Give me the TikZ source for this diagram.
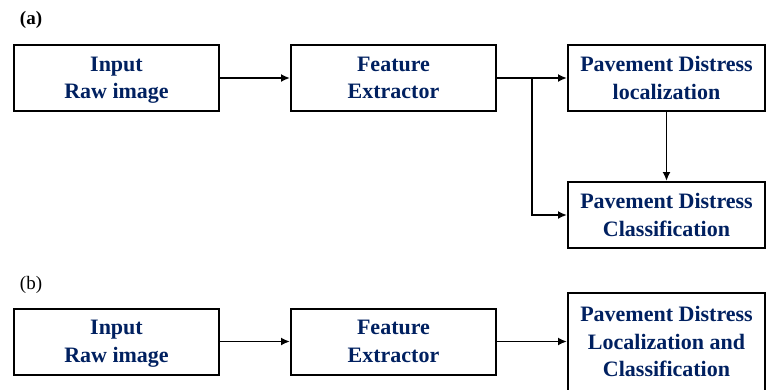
\documentclass[tikz,border=0pt]{standalone}
\usepackage{fontspec}
\setmainfont{Liberation Serif}
\usetikzlibrary{arrows.meta, positioning}
\definecolor{navy}{RGB}{0,32,96}

\begin{document}
\begin{tikzpicture}[
    x=1pt, y=-1pt,
    block/.style={draw, line width=2pt, minimum width=205pt, minimum height=66pt,
                  align=center, inner sep=0pt, text=navy, text depth=0pt,
                  font=\bfseries\fontsize{22}{27.5}\selectfont},
    endblock/.style={block, minimum width=197pt},
    arrow/.style={-{Latex[length=9pt,width=8pt]}, line width=1.8pt},
    tag/.style={font=\fontsize{19}{21}\selectfont},
    node distance=70pt
]
    \useasboundingbox (0,0) rectangle (766,389);
    \clip (0,0) rectangle (766,389);

    % (a) two-head pipeline
    \node[tag, font=\bfseries\fontsize{19}{21}\selectfont] (taga) at (31,20) {(a)};
    \node[block] (ina) at (116.5,78) {Input\\Raw image};
    \node[block, right=of ina] (fea) {Feature\\Extractor};
    \node[endblock, right=of fea] (loc) {Pavement Distress\\localization};
    \node[endblock, below=69pt of loc] (cls) {Pavement Distress\\Classification};
    \coordinate[right=35pt of fea.east] (split);

    \draw[arrow] (ina) -- (fea);
    \draw[arrow] (fea.east) -- (fea.east -| loc.west);
    \draw[arrow] (split) |- (cls.west);
    \draw[arrow] (loc) -- (cls);

    % (b) single-head pipeline
    \node[tag] (tagb) at (31,285) {(b)};
    \node[block] (inb) at (116.5,341.5) {Input\\Raw image};
    \node[block, right=of inb] (feb) {Feature\\Extractor};
    \node[endblock, minimum height=98pt, right=of feb] (det) {Pavement Distress\\Localization and\\Classification};

    \draw[arrow] (inb) -- (feb);
    \draw[arrow] (feb) -- (det);
\end{tikzpicture}
\end{document}
